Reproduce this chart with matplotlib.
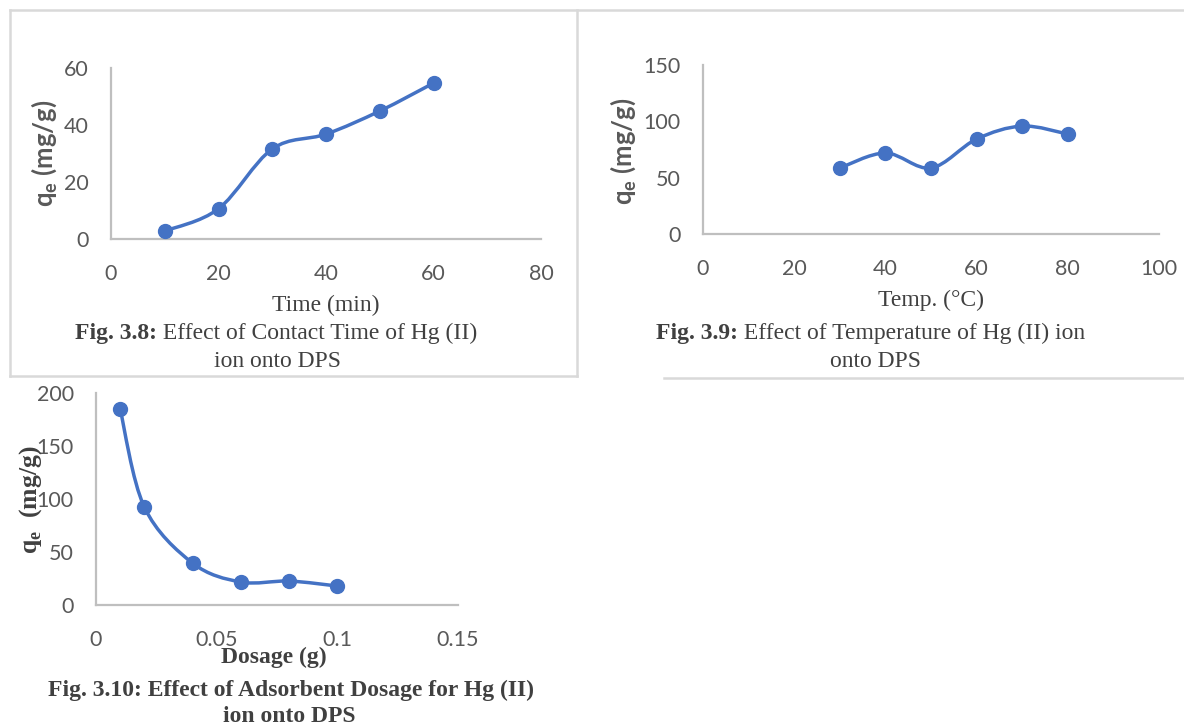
import matplotlib
matplotlib.use("Agg")
import matplotlib.pyplot as plt
from matplotlib.path import Path
from matplotlib.patches import PathPatch
from matplotlib.lines import Line2D
import numpy as np

# ── data ──────────────────────────────────────────────────────────────────────
time_min = [10, 20, 30, 40, 50, 60]
qe_time = [2.8, 10.6, 31.6, 36.8, 44.9, 54.7]

temp_c = [30, 40, 50, 60, 70, 80]
qe_temp = [58.6, 71.9, 58.6, 84.3, 95.8, 88.7]

dosage_g = [0.01, 0.02, 0.04, 0.06, 0.08, 0.1]
qe_dose = [184.9, 92.5, 39.6, 21.7, 22.6, 17.9]

time_ticks = [0, 20, 40, 60, 80]
time_yticks = [0, 20, 40, 60]
temp_ticks = [0, 20, 40, 60, 80, 100]
temp_yticks = [0, 50, 100, 150]
dose_ticks = [0, 0.05, 0.1, 0.15]
dose_ticklabels = ["0", "0.05", "0.1", "0.15"]
dose_yticks = [0, 50, 100, 150, 200]

# ── style ─────────────────────────────────────────────────────────────────────
W, H = 1184, 726
BLUE = "#4472C4"
AXIS_GREY = "#BFBFBF"
TICK_GREY = "#595959"
TEXT_DARK = "#404040"
BORDER = "#D9D9D9"
SANS = "Lato"
SERIF = "Liberation Serif"
CAP = 17          # serif caption / axis-title size
YLAB = 18.5       # y-axis title size

plt.rcParams["mathtext.fontset"] = "custom"
plt.rcParams["mathtext.bf"] = "Lato:bold"
plt.rcParams["mathtext.rm"] = "Liberation Serif:bold"

fig = plt.figure(figsize=(W / 100, H / 100), dpi=100)
fig.patch.set_facecolor("white")


def px_axes(x0, y0, x1, y1):
    return fig.add_axes([x0 / W, 1 - y1 / H, (x1 - x0) / W, (y1 - y0) / H])


def px(x, y):
    return x / W, 1 - y / H


def smooth_line(ax, xs, ys):
    # Excel-like smoothed line: cubic Bezier through the points (pixel space)
    pts = ax.transData.transform(np.column_stack([xs, ys]))
    n = len(pts)
    verts = [pts[0]]
    codes = [Path.MOVETO]
    for i in range(n - 1):
        p0 = pts[i - 1] if i > 0 else pts[i]
        p1, p2 = pts[i], pts[i + 1]
        p3 = pts[i + 2] if i + 2 < n else pts[i + 1]
        verts += [p1 + (p2 - p0) / 6, p2 - (p3 - p1) / 6, p2]
        codes += [Path.CURVE4] * 3
    verts = ax.transData.inverted().transform(np.array(verts))
    ax.add_patch(PathPatch(Path(verts, codes), fill=False, edgecolor=BLUE,
                           lw=2.5, capstyle="round", joinstyle="round", zorder=3))
    ax.plot(xs, ys, ls="none", marker="o", ms=10, color=BLUE, zorder=4,
            clip_on=False)


def style_axes(ax, xlim, ylim, xticks, yticks, xticklabels=None):
    ax.set_xlim(*xlim)
    ax.set_ylim(*ylim)
    ax.set_xticks(xticks)
    ax.set_yticks(yticks)
    if xticklabels is not None:
        ax.set_xticklabels(xticklabels)
    for s in ("top", "right"):
        ax.spines[s].set_visible(False)
    for s in ("left", "bottom"):
        ax.spines[s].set_color(AXIS_GREY)
        ax.spines[s].set_linewidth(1.6)
    ax.tick_params(length=0, labelsize=15.5, labelcolor=TICK_GREY)
    ax.tick_params(axis="x", pad=18)
    ax.tick_params(axis="y", pad=16)
    for lab in ax.get_xticklabels() + ax.get_yticklabels():
        lab.set_family(SANS)
    ax.set_facecolor("none")


def caption(x_left, y, bold_part, rest):
    t = fig.text(*px(x_left, y), bold_part, family=SERIF, weight="bold",
                 size=CAP, color=TEXT_DARK, ha="left", va="center")
    fig.add_artist(matplotlib.text.Annotation(
        rest, xy=(1, 0), xycoords=t, ha="left", va="bottom",
        family=SERIF, size=CAP, color=TEXT_DARK))


# ── panel borders ─────────────────────────────────────────────────────────────
for (xa, ya), (xb, yb) in [((10, 10), (1184, 10)), ((10, 10), (10, 376)),
                           ((577, 10), (577, 376)), ((10, 376), (577, 376)),
                           ((664, 378), (1184, 378))]:
    fig.add_artist(Line2D([xa / W, xb / W], [1 - ya / H, 1 - yb / H],
                          color=BORDER, lw=1.8, transform=fig.transFigure))

# ── Fig 3.8 ───────────────────────────────────────────────────────────────────
ax1 = px_axes(111, 68, 541, 239)
style_axes(ax1, (0, 80), (0, 60), time_ticks, time_yticks)
smooth_line(ax1, time_min, qe_time)
fig.text(*px(44, 153), r"q$_\mathbf{e}$ (mg/g)", family=SANS, weight="bold",
         size=YLAB, color=TICK_GREY, rotation=90, ha="center", va="center")
fig.text(*px(326, 305), "Time (min)", family=SERIF, size=CAP, color=TEXT_DARK,
         ha="center", va="center")
caption(75, 334, "Fig. 3.8:", " Effect of Contact Time of Hg (II)")
fig.text(*px(278, 361), "ion onto DPS", family=SERIF, size=CAP,
         color=TEXT_DARK, ha="center", va="center")

# ── Fig 3.9 ───────────────────────────────────────────────────────────────────
ax2 = px_axes(703, 65, 1159, 234)
style_axes(ax2, (0, 100), (0, 150), temp_ticks, temp_yticks)
smooth_line(ax2, temp_c, qe_temp)
fig.text(*px(623, 151), r"q$_\mathbf{e}$ (mg/g)", family=SANS, weight="bold",
         size=YLAB, color=TICK_GREY, rotation=90, ha="center", va="center")
fig.text(*px(931, 300), "Temp. (°C)", family=SERIF, size=CAP, color=TEXT_DARK,
         ha="center", va="center")
caption(656, 334, "Fig. 3.9:", " Effect of Temperature of Hg (II) ion")
fig.text(*px(876, 361), "onto DPS", family=SERIF, size=CAP,
         color=TEXT_DARK, ha="center", va="center")

# ── Fig 3.10 ──────────────────────────────────────────────────────────────────
ax3 = px_axes(96, 393, 458, 605)
style_axes(ax3, (0, 0.15), (0, 200), dose_ticks, dose_yticks, dose_ticklabels)
smooth_line(ax3, dosage_g, qe_dose)
fig.text(*px(31, 500), r"q$_\mathrm{e}$  (mg/g)", family=SERIF, weight="bold",
         size=YLAB, color=TEXT_DARK, rotation=90, ha="center", va="center")
fig.text(*px(274, 657), "Dosage (g)", family=SERIF, weight="bold", size=CAP,
         color=TEXT_DARK, ha="center", va="center")
fig.text(*px(291, 690), "Fig. 3.10: Effect of Adsorbent Dosage for Hg (II)",
         family=SERIF, weight="bold", size=CAP, color=TEXT_DARK,
         ha="center", va="center")
fig.text(*px(289, 716), "ion onto DPS", family=SERIF, weight="bold", size=CAP,
         color=TEXT_DARK, ha="center", va="center")

fig.savefig("out.png", dpi=100)
